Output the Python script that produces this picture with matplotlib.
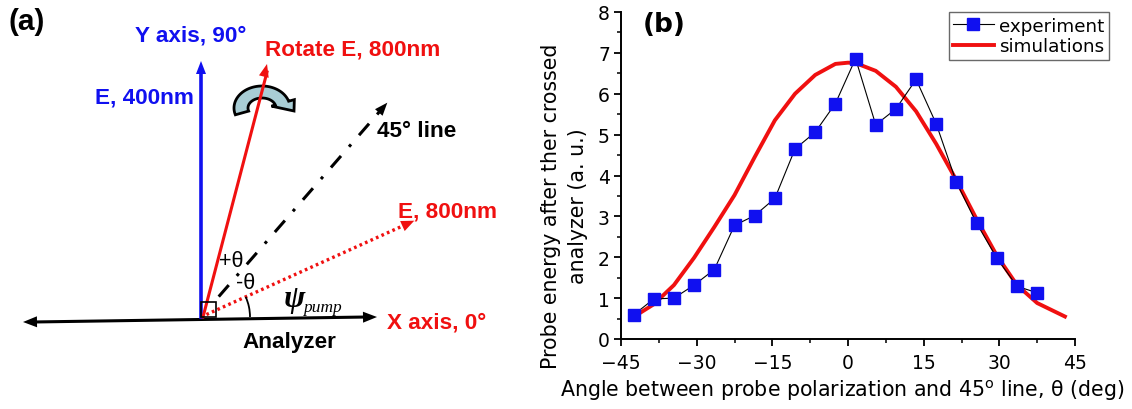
import numpy as np
import matplotlib
matplotlib.use('Agg')
import matplotlib.pyplot as plt
from matplotlib.patches import Polygon, Rectangle, Arc

plt.rcParams['font.family'] = ['Liberation Sans', 'DejaVu Sans']
plt.rcParams['mathtext.fontset'] = 'dejavusans'

# ---------------------------------------------------------------------------
# Panel (b) data
# ---------------------------------------------------------------------------
exp_theta = [-42.5, -38.5, -34.5, -30.5, -26.5, -22.5, -18.5, -14.5, -10.5, -6.5,
             -2.5, 1.5, 5.5, 9.5, 13.5, 17.5, 21.5, 25.5, 29.5, 33.5, 37.5]
exp_energy = [0.59, 0.98, 1.00, 1.32, 1.70, 2.78, 3.02, 3.44, 4.65, 5.06,
              5.76, 6.86, 5.24, 5.63, 6.35, 5.26, 3.83, 2.83, 1.98, 1.29, 1.13]

sim_theta = [-42.5, -38.5, -34.5, -30.5, -26.5, -22.5, -18.5, -14.5, -10.5, -6.5,
             -2.5, 0.0, 1.5, 5.5, 9.5, 13.5, 17.5, 21.5, 25.5, 29.5, 33.5, 37.5, 43.0]
sim_energy = [0.54, 0.85, 1.32, 1.99, 2.74, 3.52, 4.45, 5.35, 6.0, 6.46,
              6.73, 6.76, 6.75, 6.56, 6.17, 5.57, 4.77, 3.88, 2.93, 2.04, 1.32, 0.88, 0.55]

x_ticks = [-45, -30, -15, 0, 15, 30, 45]
y_ticks = [0, 1, 2, 3, 4, 5, 6, 7, 8]

BLUE = '#1010f0'
RED = '#f01010'
PANEL_B_FONT = 'DejaVu Sans'   # wider face, the (b) panel text is horizontally stretched

# ---------------------------------------------------------------------------
# Panel (a) diagram geometry (pixel space, y down)
# ---------------------------------------------------------------------------
ORIGIN = np.array([201.0, 318.0])
ANG_E400, LEN_E400 = 90.0, 256.0
ANG_ROT, LEN_ROT = 75.8, 261.0
ANG_45, R0_45, R1_45 = 49.0, 27.0, 284.0
ANG_E800, R0_E800, R1_E800 = 24.3, 6.0, 234.0


def polar(ang, r, origin=ORIGIN):
    a = np.radians(ang)
    return origin + r * np.array([np.cos(a), -np.sin(a)])


def head(ax, tip, direction, color, L=13, W=11, z=3):
    d = np.asarray(direction, float)
    d = d / np.hypot(*d)
    n = np.array([-d[1], d[0]])
    base = tip - L * d
    pts = [tip, base + n * W / 2, base - n * W / 2]
    ax.add_patch(Polygon(pts, closed=True, color=color, lw=0, zorder=z))


def main():
    fig = plt.figure(figsize=(11.32, 4.10), dpi=100)

    # ------------------------------------------------------------------
    # Panel (a): polarization diagram
    # ------------------------------------------------------------------
    ax = fig.add_axes([0, 0, 1, 1])
    ax.set_xlim(0, 1132)
    ax.set_ylim(410, 0)
    ax.axis('off')

    # analyzer (double-headed)
    left, right = np.array([23.0, 323.0]), np.array([377.0, 318.0])
    ax.plot([left[0] + 10, right[0] - 10], [left[1], right[1]], color='black', lw=2.2, zorder=2)
    head(ax, right, right - left, 'black', L=14, W=11)
    head(ax, left, left - right, 'black', L=14, W=11)

    # rotation icon (curved arrow)
    cx, cy = 262.0, 109.0
    t = np.radians(np.linspace(198, 18, 60))
    outer = np.c_[cx + 28 * np.cos(t), cy - 22 * np.sin(t)]
    inner = np.c_[cx + 14 * np.cos(t), cy - 10 * np.sin(t)]
    ta = np.radians(18)
    arrow_pts = [np.array([cx + 34 * np.cos(ta), cy - 27 * np.sin(ta)]),
                 np.array([cx + 32, cy + 3]),
                 np.array([cx + 10 * np.cos(ta), cy - 6 * np.sin(ta)])]
    icon = np.vstack([outer, arrow_pts, inner[::-1]])
    ax.add_patch(Polygon(icon, closed=True, facecolor='#a8cdd5', edgecolor='black',
                         lw=2.0, zorder=1))

    # E 400nm along Y axis
    tip = polar(ANG_E400, LEN_E400)
    ax.plot([ORIGIN[0], tip[0]], [ORIGIN[1], tip[1] + 8], color=BLUE, lw=2.6, zorder=2)
    head(ax, tip, tip - ORIGIN, BLUE, L=13, W=10)

    # rotated E 800nm
    o2 = ORIGIN + np.array([2.0, 0.0])
    tip = polar(ANG_ROT, LEN_ROT, o2)
    ax.plot([o2[0], tip[0]], [o2[1], tip[1] + 8], color=RED, lw=2.2, zorder=2)
    head(ax, tip, tip - o2, RED, L=13, W=10)

    # 45 degree line
    p0, p1 = polar(ANG_45, R0_45), polar(ANG_45, R1_45)
    d = (p1 - p0) / np.hypot(*(p1 - p0))
    ax.plot([p0[0], p1[0] - 8 * d[0]], [p0[1], p1[1] - 8 * d[1]], color='black', lw=2.2,
            linestyle=(0, (5, 4, 1, 4)), zorder=2)
    head(ax, p1, d, 'black', L=13, W=10)

    # E 800nm (dotted)
    p0, p1 = polar(ANG_E800, R0_E800), polar(ANG_E800, R1_E800)
    d = (p1 - p0) / np.hypot(*(p1 - p0))
    ax.plot([p0[0], p1[0] - 8 * d[0]], [p0[1], p1[1] - 8 * d[1]], color=RED, lw=2.4,
            linestyle=(0, (0.8, 1.0)), zorder=2)
    head(ax, p1, d, RED, L=13, W=11)

    # right-angle box and psi arc
    ax.add_patch(Rectangle((ORIGIN[0], ORIGIN[1] - 15), 15, 15, fill=False,
                           edgecolor='black', lw=1.2, zorder=2))
    ax.add_patch(Arc(ORIGIN, 98, 98, theta1=-ANG_E800, theta2=0, color='black', lw=1.3, zorder=2))

    bold = dict(fontsize=16.2, fontweight='bold')
    ax.text(135, 36, 'Y axis, 90°', color=BLUE, ha='left', va='center', **bold)
    ax.text(265, 50, 'Rotate E, 800nm', color=RED, ha='left', va='center', **bold)
    ax.text(95, 98, 'E, 400nm', color=BLUE, ha='left', va='center', **bold)
    ax.text(377, 132, '45° line', color='black', ha='left', va='center', **bold)
    ax.text(398, 212, 'E, 800nm', color=RED, ha='left', va='center', **bold)
    ax.text(387, 323, 'X axis, 0°', color=RED, ha='left', va='center', **bold)
    ax.text(289, 343, 'Analyzer', color='black', ha='center', va='center', **bold)
    ax.text(231, 262, '+θ', color='black', ha='center', va='center', fontsize=15.5)
    ax.text(246, 284, '-θ', color='black', ha='center', va='center', fontsize=15.5)
    ax.text(294, 300, 'ψ', color='black', ha='center', va='center', fontsize=23,
            family='Liberation Serif', style='italic', fontweight='bold')
    ax.text(303, 308, 'pump', color='black', ha='left', va='center', fontsize=12.5,
            family='Liberation Serif', style='italic')
    ax.text(9, 22, '(a)', color='black', ha='left', va='center', fontsize=21.5, fontweight='bold')

    # ------------------------------------------------------------------
    # Panel (b): probe energy vs angle
    # ------------------------------------------------------------------
    axb = fig.add_axes([621 / 1132, 1 - 340 / 410, 454 / 1132, 327 / 410])
    axb.plot(exp_theta, exp_energy, color='black', lw=0.8, marker='s', markersize=8,
             markerfacecolor=BLUE, markeredgecolor=BLUE, label='experiment', zorder=3)
    axb.plot(sim_theta, sim_energy, color=RED, lw=2.8, label='simulations', zorder=2)

    axb.set_xlim(-45, 45)
    axb.set_ylim(0, 8)
    axb.set_xticks(x_ticks)
    axb.set_yticks(y_ticks)
    axb.set_xticks(np.arange(-45, 46, 7.5), minor=True)
    axb.set_yticks(np.arange(0, 8.01, 0.5), minor=True)
    axb.tick_params(which='major', direction='out', length=5, width=1.3, labelsize=13.5)
    axb.tick_params(which='minor', direction='out', length=3, width=1.1)
    axb.tick_params(axis='x', which='major', pad=5)
    axb.tick_params(axis='y', which='major', pad=3)
    for lab in axb.get_xticklabels() + axb.get_yticklabels():
        lab.set_family(PANEL_B_FONT)
    for s in ['top', 'right']:
        axb.spines[s].set_visible(False)
    for s in ['left', 'bottom']:
        axb.spines[s].set_linewidth(1.4)
    axb.patch.set_alpha(0)

    axb.set_xlabel('Angle between probe polarization and 45$^\\mathrm{o}$ line, θ (deg)',
                   fontsize=14.8, family=PANEL_B_FONT)
    axb.xaxis.set_label_coords(0.487, -0.118)
    axb.set_ylabel('Probe energy after ther crossed\nanalyzer (a. u.)', fontsize=14.8,
                   family=PANEL_B_FONT, linespacing=1.45)
    axb.yaxis.set_label_coords(-0.072, 0.41)

    leg = axb.legend(loc='upper right', bbox_to_anchor=(1.075, 1.0),
                     prop={'family': PANEL_B_FONT, 'size': 13.2},
                     frameon=True, fancybox=False, edgecolor='#444444', handlelength=2.2,
                     handletextpad=0.3, borderpad=0.25, labelspacing=0.15, borderaxespad=0)
    leg.get_frame().set_linewidth(1.0)

    fig.text(643 / 1132, 1 - 25 / 410, '(b)', fontsize=19, fontweight='bold',
             family=PANEL_B_FONT, ha='left', va='center')

    fig.savefig('out.png', dpi=100)
    plt.close(fig)


if __name__ == '__main__':
    main()
